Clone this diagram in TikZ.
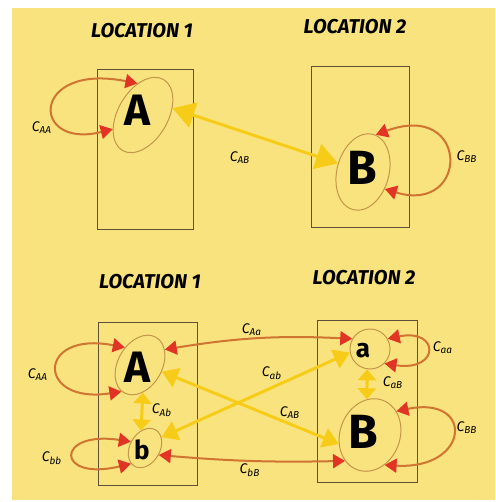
\documentclass[tikz,border=0pt]{standalone}
\usepackage{fontspec}
\setsansfont{Fira Sans}
\usetikzlibrary{shapes.geometric, arrows.meta, positioning}

\definecolor{paper}{RGB}{249,227,126}
\definecolor{loopline}{RGB}{208,116,50}
\definecolor{headred}{RGB}{226,52,36}
\definecolor{flowyellow}{RGB}{247,204,24}
\definecolor{pencil}{RGB}{95,80,55}
\definecolor{blobline}{RGB}{196,150,74}

\tikzset{
  redhead/.tip={Triangle[width=7pt,length=6pt,color=headred]},
  yhead/.tip={Triangle[width=10pt,length=8pt]},
  bighead/.tip={Triangle[width=13pt,length=11pt]},
  shorthead/.tip={Triangle[width=9pt,length=5.5pt]},
}

\begin{document}
\begin{tikzpicture}[
    x=0.5pt, y=-0.5pt,
    font=\sffamily,
    frame/.style={draw=pencil, line width=0.5pt},
    blob/.style={ellipse, draw=blobline, line width=0.5pt, inner sep=0pt},
    letter/.style={font=\sffamily\bfseries\fontsize{22}{22}\selectfont, text=black},
    small/.style={font=\sffamily\bfseries\fontsize{13}{13}\selectfont},
    loc/.style={font=\sffamily\bfseries\itshape\fontsize{10}{10}\selectfont},
    cost/.style={font=\sffamily\itshape\fontsize{7}{7}\selectfont},
    loop/.style={draw=loopline, line width=1pt, redhead-redhead},
    flow/.style={draw=flowyellow, line width=1.5pt, yhead-yhead},
]
\useasboundingbox (0,0) rectangle (495,502);
\fill[white] (0,0) rectangle (495,502);
\fill[paper] (12,8) rectangle (495,500);

% Top: two locations, one node each
\node[loc] (loc1) at (142,31) {LOCATION 1};
\node[loc] (loc2) at (355,27) {LOCATION 2};
\draw[frame] (97,70) rectangle (193,229);
\draw[frame] (311,67) rectangle (409,227);

\node[blob, minimum width=25pt, minimum height=41pt, rotate=-30] (blobA) at (143,115) {};
\node[letter] (A) at (137,110) {A};
\node[blob, minimum width=26pt, minimum height=39pt, rotate=-15] (blobB) at (363,172) {};
\node[letter, font=\sffamily\bfseries\fontsize{24}{24}\selectfont] (B) at (362,168) {B};

\draw[loop] (blobA.130) .. controls (30,62) and (30,150) .. (blobA.235);
\draw[loop] (blobB.86) .. controls (470,100) and (470,215) .. (blobB.-23);
\draw[flow, bighead-bighead] (blobA.43) -- (blobB.176);

\node[cost] (cAA) at (42,128) {C\textsubscript{AA}};
\node[cost] (cAB) at (240,158) {C\textsubscript{AB}};
\node[cost] (cBB) at (467,157) {C\textsubscript{BB}};

% Bottom: two nodes in each location
\node[loc] (loc3) at (150,282) {LOCATION 1};
\node[loc] (loc4) at (364,278) {LOCATION 2};
\draw[frame] (98,322) rectangle (197,485);
\draw[frame] (317,320) rectangle (417,482);

\node[blob, minimum width=22pt, minimum height=32pt, rotate=-30] (blobA2) at (140,365) {};
\node[letter] (A2) at (137,367) {A};
\node[blob, minimum width=15pt, minimum height=21pt, rotate=-30] (blobb) at (145,448) {};
\node[letter, small] (b) at (142,450) {b};
\node[blob, minimum width=20pt, minimum height=20pt] (bloba) at (370,349) {};
\node[letter, small] (a) at (363,351) {a};
\node[blob, minimum width=30pt, minimum height=37pt, rotate=-20] (blobB2) at (370,435) {};
\node[letter, font=\sffamily\bfseries\fontsize{24}{24}\selectfont] (B2) at (363,432) {B};

% self loops
\draw[loop] (blobA2.161) .. controls (36,330) and (36,405) .. (blobA2.265);
\draw[loop] (blobb.186) .. controls (55,430) and (55,482) .. (blobb.258);
\draw[loop] (bloba.30) .. controls (440,328) and (440,372) .. (bloba.-45);
\draw[loop] (blobB2.62) .. controls (475,395) and (470,470) .. (blobB2.-44);
% between locations
\draw[loop] (blobA2.62) to[bend left=6] (bloba.150);
\draw[loop] (blobb.3) to[bend right=3] (blobB2.246);
\draw[flow, shorthead-shorthead] (blobA2.306) -- (blobb.133);
\draw[flow, shorthead-shorthead] (bloba.262) -- (blobB2.115);
\draw[flow] (blobA2.13) -- (blobB2.216);
\draw[flow] (blobb.63) -- (bloba.190);

\node[cost] (cAA2) at (38,375) {C\textsubscript{AA}};
\node[cost] (cbb) at (52,458) {C\textsubscript{bb}};
\node[cost] (cAb) at (162,410) {C\textsubscript{Ab}};
\node[cost] (cAa) at (252,330) {C\textsubscript{Aa}};
\node[cost] (cab) at (272,373) {C\textsubscript{ab}};
\node[cost] (cAB2) at (290,413) {C\textsubscript{AB}};
\node[cost] (cbB) at (250,470) {C\textsubscript{bB}};
\node[cost] (caa) at (443,348) {C\textsubscript{aa}};
\node[cost] (caB) at (393,383) {C\textsubscript{aB}};
\node[cost] (cBB2) at (467,428) {C\textsubscript{BB}};
\end{tikzpicture}
\end{document}
